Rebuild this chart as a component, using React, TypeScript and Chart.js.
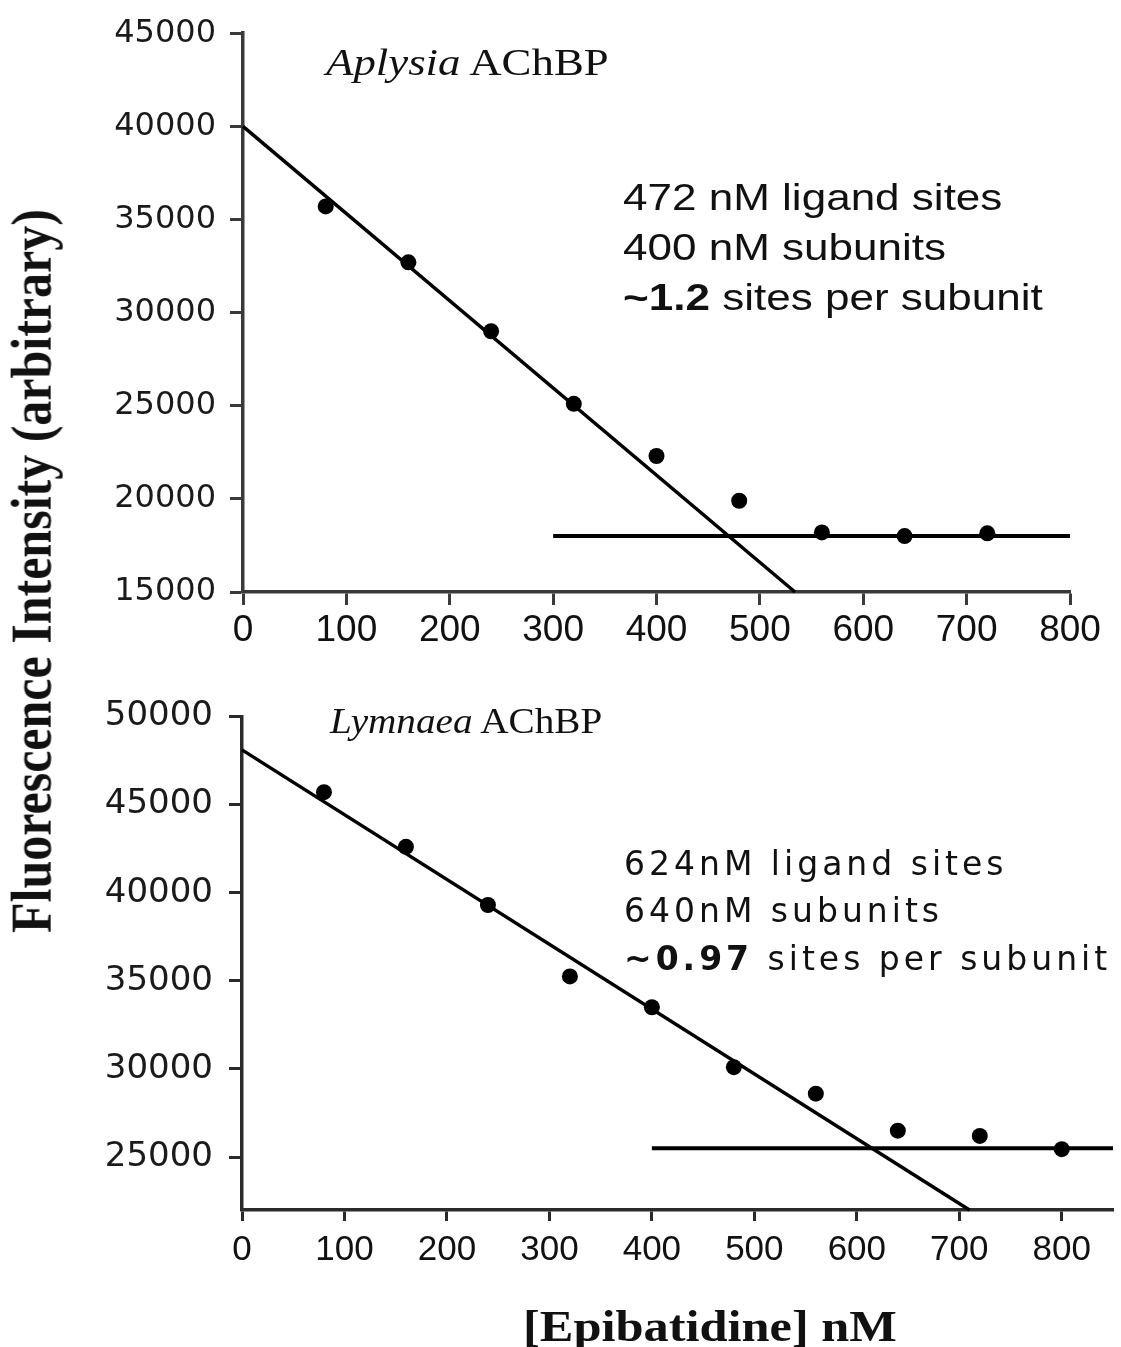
import React, { useEffect, useRef } from 'react';
import { Chart, registerables } from 'chart.js';

Chart.register(...registerables);

// ---------- Data: Aplysia AChBP (top panel) ----------
const aplysiaX = [80, 160, 240, 320, 400, 480, 560, 640, 720];
const aplysiaY = [35700, 32700, 29000, 25100, 22300, 19900, 18200, 18000, 18150];
const aplysiaFitX = [0, 534];
const aplysiaFitY = [40000, 15000];
const aplysiaPlateauX = [300, 800];
const aplysiaPlateauY = [18000, 18000];
const aplysiaXTicks = [0, 100, 200, 300, 400, 500, 600, 700, 800];
const aplysiaYTicks = [15000, 20000, 25000, 30000, 35000, 40000, 45000];

// ---------- Data: Lymnaea AChBP (bottom panel) ----------
const lymnaeaX = [80, 160, 240, 320, 400, 480, 560, 640, 720, 800];
const lymnaeaY = [45700, 42600, 39300, 35250, 33500, 30100, 28600, 26500, 26200, 25450];
const lymnaeaFitX = [0, 710];
const lymnaeaFitY = [48100, 22000];
const lymnaeaPlateauX = [400, 850];
const lymnaeaPlateauY = [25500, 25500];
const lymnaeaXTicks = [0, 100, 200, 300, 400, 500, 600, 700, 800];
const lymnaeaYTicks = [25000, 30000, 35000, 40000, 45000, 50000];

const toPts = (xs: number[], ys: number[]) => xs.map((x, i) => ({ x, y: ys[i] }));

type PanelCfg = {
  pointsX: number[]; pointsY: number[];
  fitX: number[]; fitY: number[];
  plateauX: number[]; plateauY: number[];
  xTicks: number[]; yTicks: number[];
  xMin: number; xMax: number; yMin: number; yMax: number;
  padding: { top: number; right: number; left: number; bottom: number };
  yWidth: number; xHeight: number;
  yFont: any; xFont: any; yPad: number; xPad: number; xTickLen: number;
  axisColor: string;
};

function makeChart(canvas: HTMLCanvasElement, c: PanelCfg) {
  return new Chart(canvas, {
    type: 'scatter',
    data: {
      datasets: [
        {
          data: toPts(c.pointsX, c.pointsY),
          showLine: false,
          pointRadius: 8,
          pointHoverRadius: 8,
          pointBackgroundColor: '#000',
          pointBorderColor: '#000',
          pointBorderWidth: 0,
        },
        {
          data: toPts(c.fitX, c.fitY),
          showLine: true,
          borderColor: '#000',
          borderWidth: 3.5,
          pointRadius: 0,
          clip: false as any,
        },
        {
          data: toPts(c.plateauX, c.plateauY),
          showLine: true,
          borderColor: '#000',
          borderWidth: 4,
          pointRadius: 0,
          clip: false as any,
        },
      ],
    },
    options: {
      animation: false,
      responsive: false,
      events: [],
      layout: { padding: c.padding },
      plugins: { legend: { display: false }, tooltip: { enabled: false } },
      scales: {
        x: {
          type: 'linear',
          min: c.xMin,
          max: c.xMax,
          afterBuildTicks: (s: any) => { s.ticks = c.xTicks.map((v) => ({ value: v })); },
          afterFit: (s: any) => { s.height = c.xHeight; },
          grid: {
            drawOnChartArea: false,
            drawTicks: true,
            tickLength: c.xTickLen,
            tickColor: c.axisColor,
            tickWidth: 3,
            color: c.axisColor,
          },
          border: { display: true, color: c.axisColor, width: 3.5 },
          ticks: {
            autoSkip: false,
            maxRotation: 0,
            padding: c.xPad,
            color: '#111',
            font: c.xFont,
            callback: (v: any) => String(v),
          },
        },
        y: {
          type: 'linear',
          min: c.yMin,
          max: c.yMax,
          afterBuildTicks: (s: any) => { s.ticks = c.yTicks.map((v) => ({ value: v })); },
          afterFit: (s: any) => { s.width = c.yWidth; },
          grid: {
            drawOnChartArea: false,
            drawTicks: true,
            tickLength: 13,
            tickColor: c.axisColor,
            tickWidth: 3,
            color: c.axisColor,
          },
          border: { display: true, color: c.axisColor, width: 3.5 },
          ticks: {
            autoSkip: false,
            padding: c.yPad,
            color: '#1a1a1a',
            font: c.yFont,
            callback: (v: any) => String(v),
          },
        },
      },
    } as any,
  });
}

const serif = '"Liberation Serif", "Times New Roman", serif';
const sans = '"Liberation Sans", Arial, sans-serif';
const dejavu = '"DejaVu Sans", sans-serif';

export default function App() {
  const topRef = useRef<HTMLCanvasElement>(null);
  const botRef = useRef<HTMLCanvasElement>(null);

  useEffect(() => {
    const top = makeChart(topRef.current!, {
      pointsX: aplysiaX, pointsY: aplysiaY,
      fitX: aplysiaFitX, fitY: aplysiaFitY,
      plateauX: aplysiaPlateauX, plateauY: aplysiaPlateauY,
      xTicks: aplysiaXTicks, yTicks: aplysiaYTicks,
      xMin: 0, xMax: 800, yMin: 15000, yMax: 45000,
      padding: { top: 29, right: 51, left: 0, bottom: 0 },
      yWidth: 243, xHeight: 88,
      yFont: { family: dejavu, size: 32 },
      xFont: { family: sans, size: 37 },
      yPad: 14, xPad: 4, xTickLen: 13,
      axisColor: '#3a3a3a',
    });
    const bot = makeChart(botRef.current!, {
      pointsX: lymnaeaX, pointsY: lymnaeaY,
      fitX: lymnaeaFitX, fitY: lymnaeaFitY,
      plateauX: lymnaeaPlateauX, plateauY: lymnaeaPlateauY,
      xTicks: lymnaeaXTicks, yTicks: lymnaeaYTicks,
      xMin: 0, xMax: 850, yMin: 22000, yMax: 50000,
      padding: { top: 21, right: 7, left: 0, bottom: 0 },
      yWidth: 242, xHeight: 137,
      yFont: { family: dejavu, size: 34 },
      xFont: { family: sans, size: 35 },
      yPad: 16, xPad: 8, xTickLen: 11,
      axisColor: '#2a2a2a',
    });
    return () => { top.destroy(); bot.destroy(); };
  }, []);

  const txt = (extra: React.CSSProperties): React.CSSProperties => ({
    position: 'absolute',
    whiteSpace: 'nowrap',
    lineHeight: 1,
    color: '#111',
    transformOrigin: '0 0',
    ...extra,
  });

  return (
    <div style={{ position: 'absolute', left: 0, top: 0, width: 1121, height: 1347, overflow: 'hidden', background: '#fff' }}>
      <canvas ref={topRef} width={1121} height={680} style={{ position: 'absolute', left: 0, top: 0 }} />
      <canvas ref={botRef} width={1121} height={667} style={{ position: 'absolute', left: 0, top: 680 }} />

      {/* panel titles */}
      <div style={txt({ left: 326, top: 43, fontFamily: serif, fontSize: 38, transform: 'scaleX(1.18)' })}>
        <i>Aplysia</i> AChBP
      </div>
      <div style={txt({ left: 330, top: 704, fontFamily: serif, fontSize: 35, transform: 'scaleX(1.12)' })}>
        <i>Lymnaea</i> AChBP
      </div>

      {/* top annotations */}
      <div style={txt({ left: 623, top: 179, fontFamily: sans, fontSize: 37, transform: 'scaleX(1.19)' })}>472 nM ligand sites</div>
      <div style={txt({ left: 623, top: 229, fontFamily: sans, fontSize: 37, transform: 'scaleX(1.19)' })}>400 nM subunits</div>
      <div style={txt({ left: 623, top: 279, fontFamily: sans, fontSize: 37, transform: 'scaleX(1.19)' })}>
        <b>~1.2</b> sites per subunit
      </div>

      {/* bottom annotations */}
      <div style={txt({ left: 624, top: 847, fontFamily: dejavu, fontSize: 33, letterSpacing: 4 })}>624nM ligand sites</div>
      <div style={txt({ left: 624, top: 894, fontFamily: dejavu, fontSize: 33, letterSpacing: 4 })}>640nM subunits</div>
      <div style={txt({ left: 624, top: 942, fontFamily: dejavu, fontSize: 33, letterSpacing: 4 })}>
        <b>~0.97</b> sites per subunit
      </div>

      {/* axis titles */}
      <div style={txt({ left: 523, top: 1304, fontFamily: serif, fontSize: 45, fontWeight: 'bold', transform: 'scaleX(1.12)' })}>
        [Epibatidine] nM
      </div>
      <div
        style={{
          position: 'absolute',
          left: 32,
          top: 571,
          whiteSpace: 'nowrap',
          lineHeight: 1,
          color: '#111',
          fontFamily: serif,
          fontSize: 50,
          fontWeight: 'bold',
          transform: 'translate(-50%, -50%) rotate(-90deg) scaleY(1.12)',
          transformOrigin: '50% 50%',
        }}
      >
        Fluorescence Intensity (arbitrary)
      </div>
    </div>
  );
}
